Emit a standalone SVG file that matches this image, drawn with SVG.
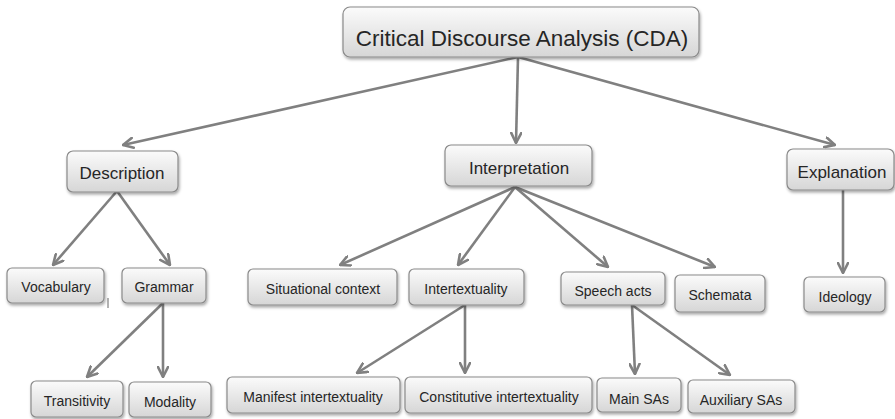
<svg xmlns="http://www.w3.org/2000/svg" width="895" height="419" viewBox="0 0 895 419">
<defs>
<linearGradient id="g" x1="0" y1="0" x2="0" y2="1">
<stop offset="0" stop-color="#fbfbfb"/>
<stop offset="1" stop-color="#d6d6d6"/>
</linearGradient>
<filter id="sh" x="-20%" y="-30%" width="140%" height="170%">
<feDropShadow dx="1" dy="2" stdDeviation="1.5" flood-color="#000" flood-opacity="0.35"/>
</filter>
<marker id="ah" viewBox="0 0 12 12" refX="11" refY="6" markerWidth="12" markerHeight="12" markerUnits="userSpaceOnUse" orient="auto">
<path d="M1,1 L11,6 L1,11" fill="none" stroke="#808080" stroke-width="2.6" stroke-linecap="round" stroke-linejoin="round"/>
</marker>
</defs>
<style>
.box{fill:url(#g);stroke:#8a8a8a;stroke-width:1.2;filter:url(#sh)}
.t{font-family:"Liberation Sans",Arial,sans-serif;fill:#262626;text-anchor:middle}
.l0{font-size:22.5px}
.l1{font-size:17px}
.l2{font-size:14px}
.c{stroke:#808080;stroke-width:2.6;fill:none;marker-end:url(#ah)}
</style>
<rect width="895" height="419" fill="#ffffff"/>
<g id="connectors">
<line class="c" x1="518" y1="57" x2="123" y2="145"/>
<line class="c" x1="518" y1="57" x2="516" y2="143"/>
<line class="c" x1="518" y1="57" x2="835" y2="145"/>
<line class="c" x1="117" y1="191" x2="53" y2="265"/>
<line class="c" x1="117" y1="191" x2="170" y2="265"/>
<line class="c" x1="163" y1="303" x2="87" y2="377"/>
<line class="c" x1="163" y1="303" x2="163" y2="377"/>
<line class="c" x1="515" y1="187" x2="340" y2="265"/>
<line class="c" x1="515" y1="187" x2="458" y2="265"/>
<line class="c" x1="515" y1="187" x2="608" y2="267"/>
<line class="c" x1="515" y1="187" x2="715" y2="267"/>
<line class="c" x1="465" y1="305" x2="357" y2="373"/>
<line class="c" x1="465" y1="305" x2="465" y2="373"/>
<line class="c" x1="632" y1="305" x2="635" y2="374"/>
<line class="c" x1="632" y1="305" x2="730" y2="375"/>
<line class="c" x1="843" y1="190" x2="843" y2="273"/>
</g>
<line x1="108" y1="298" x2="108" y2="308" stroke="#666" stroke-width="1"/>
<g id="cda"><rect class="box" x="343" y="7" width="356" height="50" rx="7"/><text class="t l0" x="522" y="46">Critical Discourse Analysis (CDA)</text></g>
<g id="description"><rect class="box" x="67" y="151" width="111" height="41" rx="6"/><text class="t l1" x="122" y="179">Description</text></g>
<g id="interpretation"><rect class="box" x="445" y="145" width="147" height="41" rx="6"/><text class="t l1" x="519" y="174">Interpretation</text></g>
<g id="explanation"><rect class="box" x="787" y="149" width="107" height="41" rx="6"/><text class="t l1" x="842" y="178">Explanation</text></g>
<g id="vocabulary"><rect class="box" x="7" y="268" width="97" height="35" rx="5"/><text class="t l2" x="56" y="292">Vocabulary</text></g>
<g id="grammar"><rect class="box" x="122" y="268" width="84" height="35" rx="5"/><text class="t l2" x="164" y="292">Grammar</text></g>
<g id="transitivity"><rect class="box" x="31" y="381" width="92" height="36" rx="5"/><text class="t l2" x="77" y="406">Transitivity</text></g>
<g id="modality"><rect class="box" x="129" y="382" width="82" height="35" rx="5"/><text class="t l2" x="170" y="407">Modality</text></g>
<g id="situational"><rect class="box" x="248" y="269" width="149" height="36" rx="5"/><text class="t l2" x="323" y="294">Situational context</text></g>
<g id="intertextuality"><rect class="box" x="409" y="269" width="115" height="36" rx="5"/><text class="t l2" x="466" y="294">Intertextuality</text></g>
<g id="speechacts"><rect class="box" x="561" y="272" width="104" height="33" rx="5"/><text class="t l2" x="613" y="296">Speech acts</text></g>
<g id="schemata"><rect class="box" x="675" y="275" width="90" height="37" rx="5"/><text class="t l2" x="720" y="300">Schemata</text></g>
<g id="ideology"><rect class="box" x="804" y="277" width="81" height="35" rx="5"/><text class="t l2" x="845" y="302">Ideology</text></g>
<g id="manifest"><rect class="box" x="227" y="377" width="173" height="36" rx="5"/><text class="t l2" x="313" y="402">Manifest intertextuality</text></g>
<g id="constitutive"><rect class="box" x="405" y="377" width="187" height="36" rx="5"/><text class="t l2" x="499" y="402">Constitutive intertextuality</text></g>
<g id="mainsas"><rect class="box" x="597" y="378" width="84" height="34" rx="5"/><text class="t l2" x="639" y="404">Main SAs</text></g>
<g id="auxsas"><rect class="box" x="688" y="380" width="107" height="33" rx="5"/><text class="t l2" x="741" y="405">Auxiliary SAs</text></g>
</svg>
